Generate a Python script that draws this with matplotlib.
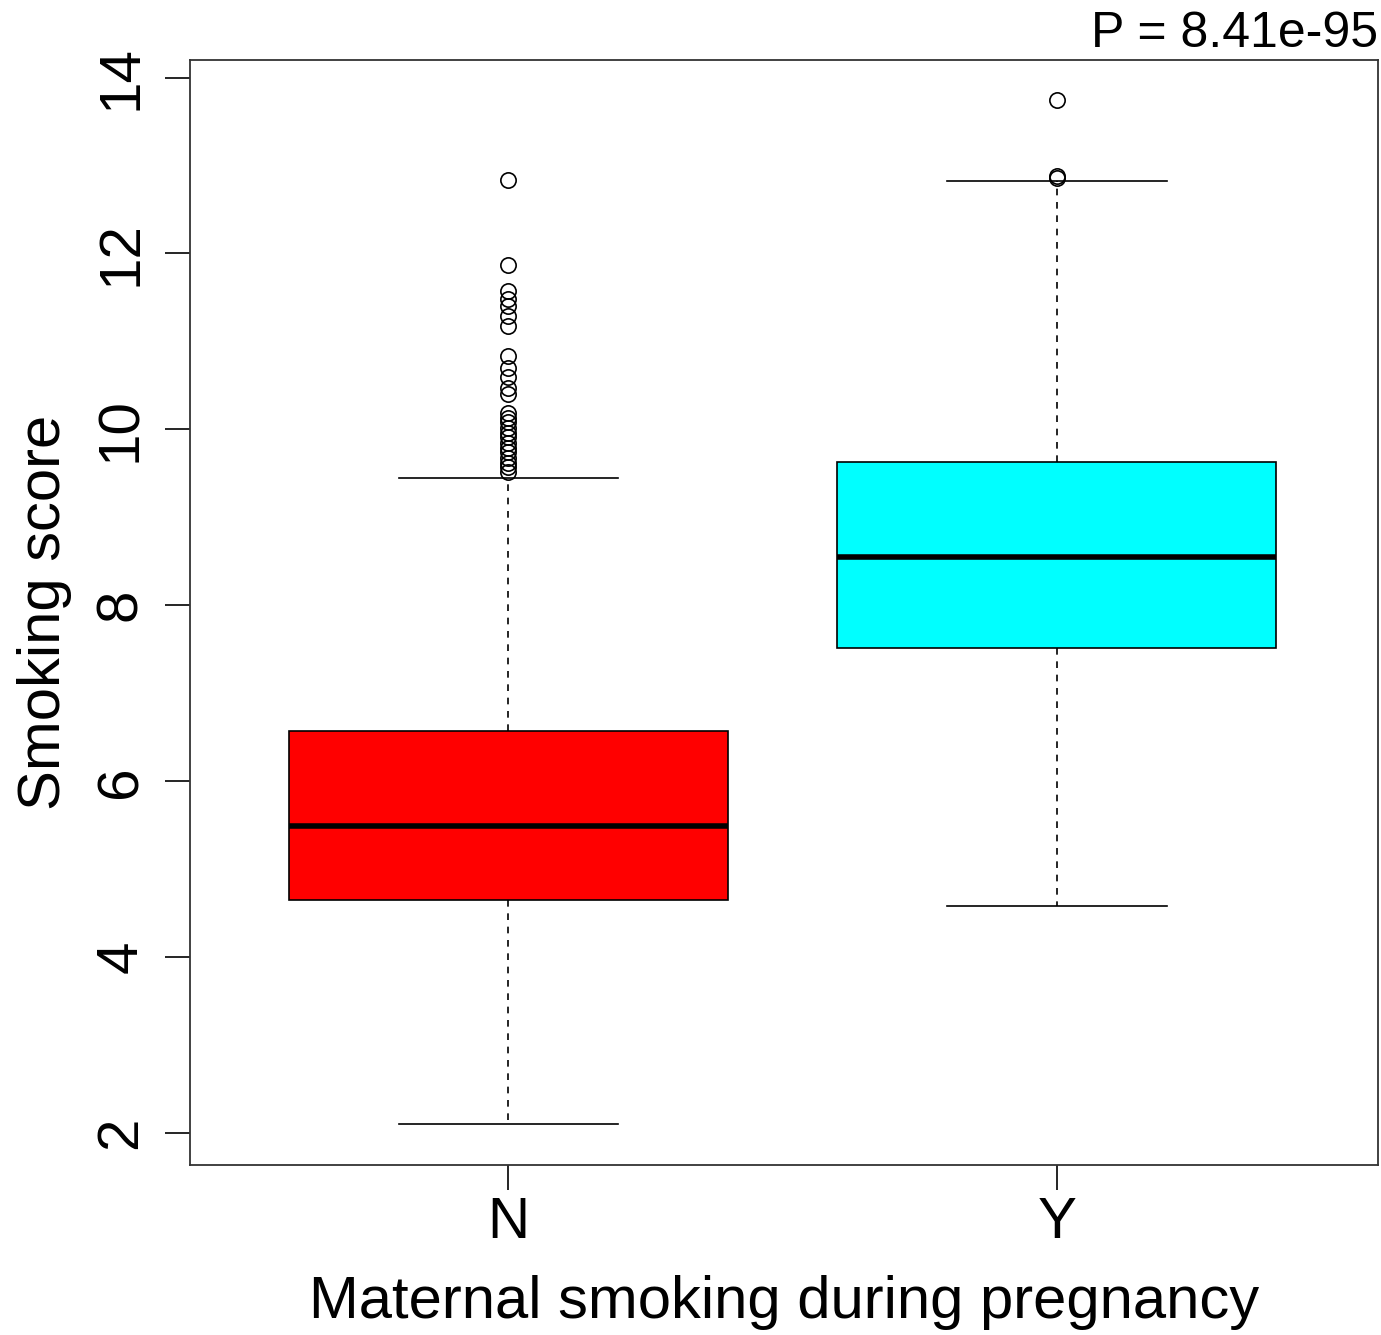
import matplotlib
matplotlib.use('Agg')
from matplotlib import pyplot as plt

plt.rcParams['font.family'] = ['Liberation Sans', 'DejaVu Sans']

groups = ['N', 'Y']
colors = ['#ff0000', '#00ffff']
q1 = [4.65, 7.52]
med = [5.49, 8.55]
q3 = [6.57, 9.63]
wlo = [2.10, 4.58]
whi = [9.45, 12.82]
fliers_n = [12.83, 11.87, 11.57, 11.48, 11.40, 11.29, 11.17, 10.83, 10.70, 10.59,
            10.47, 10.40, 10.19, 10.13, 10.08, 10.02, 9.96, 9.91, 9.85, 9.79,
            9.74, 9.68, 9.62, 9.57, 9.51]
fliers_y = [13.74, 12.86, 12.88]
pval = 'P = 8.41e-95'

stats = []
for i in range(2):
    stats.append({'q1': q1[i], 'med': med[i], 'q3': q3[i], 'whislo': wlo[i],
                  'whishi': whi[i], 'fliers': [fliers_n, fliers_y][i], 'label': groups[i]})

fig = plt.figure(figsize=(13.81, 13.35), dpi=100)
ax = fig.add_axes([0.1376, 0.1273, 0.8602, 0.8278])

bp = ax.bxp(stats, positions=[1, 2], widths=0.8, patch_artist=True,
            boxprops=dict(edgecolor='black', linewidth=1.2),
            medianprops=dict(color='black', linewidth=4),
            whiskerprops=dict(color='black', linewidth=1.2, linestyle=(0, (4, 4))),
            capprops=dict(color='black', linewidth=1.2),
            capwidths=0.4,
            flierprops=dict(marker='o', markerfacecolor='none', markeredgecolor='black',
                            markersize=11, markeredgewidth=1.2))
for patch, c in zip(bp['boxes'], colors):
    patch.set_facecolor(c)

ax.set_xlim(0.42, 2.585)
ax.set_ylim(1.636, 14.2)
ax.set_yticks([2, 4, 6, 8, 10, 12, 14])
ax.set_xticks([1, 2])
ax.set_xticklabels(groups)
ax.tick_params(axis='both', labelsize=42, length=18, width=1.2)
ax.tick_params(axis='x', pad=4)
ax.tick_params(axis='y', pad=12)
for lab in ax.get_yticklabels():
    lab.set_rotation(90)
    lab.set_va('center')
for s in ax.spines.values():
    s.set_linewidth(1.3)
    s.set_color('#333333')

ax.set_xlabel('Maternal smoking during pregnancy', fontsize=43, labelpad=18)
ax.set_ylabel('Smoking score', fontsize=43, labelpad=16)
ax.text(1.0, 1.003, pval, transform=ax.transAxes, ha='right', va='bottom', fontsize=36)

plt.savefig('out.png')
